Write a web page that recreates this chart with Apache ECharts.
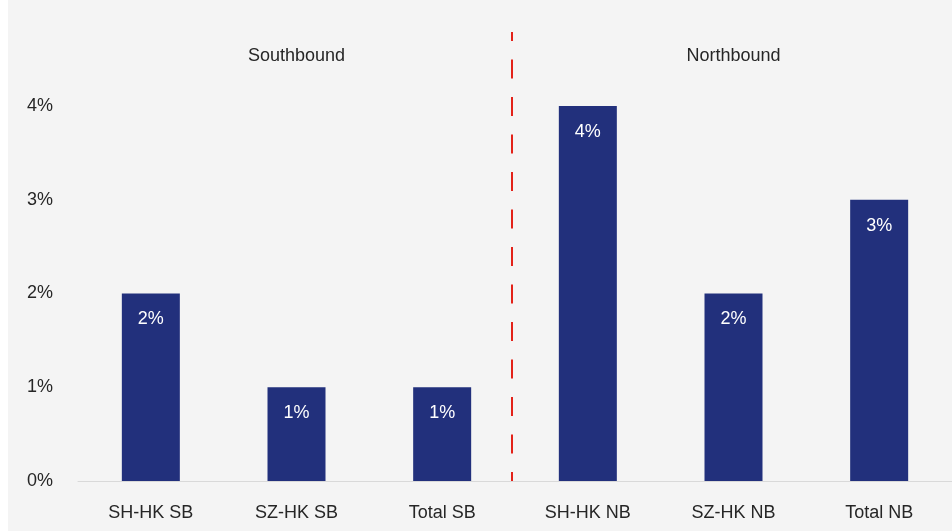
<!DOCTYPE html>
<html>
<head>
<meta charset="utf-8">
<script src="https://cdn.jsdelivr.net/npm/echarts@6/dist/echarts.min.js"></script>
<style>
  html, body { margin: 0; padding: 0; background: #ffffff; }
  #chart { position: absolute; left: 8px; top: 0; width: 944px; height: 531px; background: #f4f4f4; }
</style>
</head>
<body>
<div id="chart"></div>
<script>
  // 数据
  var categories = ['SH-HK SB', 'SZ-HK SB', 'Total SB', 'SH-HK NB', 'SZ-HK NB', 'Total NB'];
  var groupLabels = ['', 'Southbound', '', '', 'Northbound', ''];
  var values = [2, 1, 1, 4, 2, 3];
  var yTicks = [0, 1, 2, 3, 4];
  var dividerAt = 2.98; // 南向/北向分界（类目边界附近）

  var textColor = '#262626';
  var font = 'Liberation Sans, Arial, sans-serif';

  var myChart = echarts.init(document.getElementById('chart'));
  var option = {
    animation: false,
    grid: {
      left: 70,
      right: 0,
      top: 32,
      bottom: 50
    },
    xAxis: [
      {
        type: 'category',
        data: categories,
        axisLine: { lineStyle: { color: '#d9d9d9', width: 1 } },
        axisTick: { show: false },
        axisLabel: { color: textColor, fontSize: 18, fontFamily: font, margin: 23 }
      },
      {
        type: 'category',
        position: 'top',
        data: groupLabels,
        axisLine: { show: false },
        axisTick: { show: false },
        axisLabel: { inside: true, color: textColor, fontSize: 18, fontFamily: font, margin: 15 }
      },
      {
        type: 'value',
        min: 0,
        max: categories.length,
        show: false
      }
    ],
    yAxis: {
      type: 'value',
      min: 0,
      max: 4.79,
      interval: 1,
      splitLine: { show: false },
      axisLine: { show: false },
      axisTick: { show: false },
      axisLabel: {
        color: textColor,
        fontSize: 18,
        fontFamily: font,
        margin: 25,
        showMaxLabel: false,
        formatter: function (v){
          return yTicks.indexOf(v) > -1 ? v + '%' : '';
        }
      }
    },
    series: [
      {
        type: 'bar',
        data: values,
        barWidth: 58,
        itemStyle: { color: '#22307c' },
        label: {
          show: true,
          position: 'insideTop',
          distance: 17,
          color: '#ffffff',
          fontSize: 18,
          fontFamily: font,
          formatter: '{c}%'
        }
      },
      {
        type: 'scatter',
        xAxisIndex: 2,
        data: [],
        markLine: {
          silent: true,
          symbol: 'none',
          label: { show: false },
          lineStyle: { color: '#e32219', width: 2, type: [19, 18.5], dashOffset: 10 },
          data: [{ xAxis: dividerAt }]
        }
      }
    ]
  };

  myChart.setOption(option);
</script>
</body>
</html>
